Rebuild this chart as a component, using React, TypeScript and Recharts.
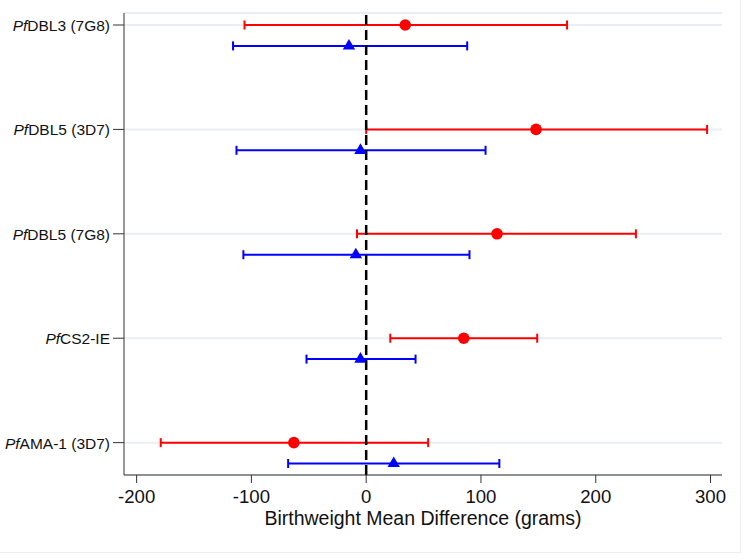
import React from 'react';
import {
  ScatterChart, Scatter, XAxis, YAxis, CartesianGrid, ErrorBar, ReferenceLine, Label,
} from 'recharts';

// antigen names, the "Pf" prefix is drawn in italics
const antigens = ['DBL3 (7G8)', 'DBL5 (3D7)', 'DBL5 (7G8)', 'CS2-IE', 'AMA-1 (3D7)'];

// red series (circles)
const redMean = [34, 148, 114, 85, -63];
const redLow = [-106, 0, -8, 21, -179];
const redHigh = [175, 297, 235, 149, 54];

// blue series (triangles)
const blueMean = [-15, -5, -9, -5, 24];
const blueLow = [-116, -113, -107, -52, -68];
const blueHigh = [88, 104, 90, 43, 116];

const xTicks = [-200, -100, 0, 100, 200, 300];
const rowTicks = [0, 1, 2, 3, 4];
const blueOffset = 0.2;

const font = '"Liberation Sans", Arial, sans-serif';

const redData = redMean.map((m, i) => ({ x: m, y: i, err: [m - redLow[i], redHigh[i] - m] }));
const blueData = blueMean.map((m, i) => ({ x: m, y: i + blueOffset, err: [m - blueLow[i], blueHigh[i] - m] }));

const RedDot = (props: any) => {
  const { cx, cy } = props;
  return <circle cx={cx} cy={cy} r={5.8} fill="#ff0000" />;
};

const BlueTriangle = (props: any) => {
  const { cx, cy } = props;
  return <path d={`M${cx},${cy - 7} L${cx - 6.2},${cy + 3.6} L${cx + 6.2},${cy + 3.6} Z`} fill="#0000ff" />;
};

const AntigenTick = (props: any) => {
  const { x, y, payload } = props;
  const name = antigens[payload.value];
  if (name === undefined) return null;
  return (
    <text x={x} y={y} textAnchor="end" dominantBaseline="central" style={{ fontSize: 15.5, fontFamily: font }} fill="#111">
      <tspan fontStyle="italic">Pf</tspan>
      <tspan>{name}</tspan>
    </text>
  );
};

const ValueTick = (props: any) => {
  const { x, y, payload } = props;
  return (
    <text x={x} y={y + 11} textAnchor="middle" style={{ fontSize: 18.6, fontFamily: font }} fill="#111">
      {payload.value}
    </text>
  );
};

export default function App() {
  return (
    <div style={{ position: 'absolute', left: 0, top: 0, width: 750, height: 560, background: '#fff' }}>
      <div style={{ position: 'absolute', left: 0, top: 0, width: 740, height: 552, borderRight: '1px solid #eeeeee', borderBottom: '1px solid #eeeeee' }} />
      <ScatterChart width={750} height={560} margin={{ top: 13, right: 28, left: 0, bottom: 25 }}>
        <CartesianGrid vertical={false} stroke="#e9eef4" strokeWidth={2} />
        <XAxis
          type="number"
          dataKey="x"
          domain={[-211, 310]}
          ticks={xTicks}
          allowDataOverflow
          height={60}
          stroke="#333"
          tickSize={8}
          tickMargin={9}
          tick={<ValueTick />}
        >
          <Label
            value="Birthweight Mean Difference (grams)"
            position="insideBottom"
            offset={10}
            style={{ fontSize: 19.5, fontFamily: font }}
            fill="#111"
          />
        </XAxis>
        <YAxis
          type="number"
          dataKey="y"
          domain={[-0.115, 4.31]}
          ticks={rowTicks}
          reversed
          allowDataOverflow
          width={124}
          stroke="#333"
          tickSize={11}
          tickMargin={3}
          tick={<AntigenTick />}
        />
        <Scatter data={redData} shape={<RedDot />} isAnimationActive={false}>
          <ErrorBar dataKey="err" direction="x" stroke="#ff0000" strokeWidth={2} width={4.5} isAnimationActive={false} />
        </Scatter>
        <Scatter data={blueData} shape={<BlueTriangle />} isAnimationActive={false}>
          <ErrorBar dataKey="err" direction="x" stroke="#0000ff" strokeWidth={2} width={4.5} isAnimationActive={false} />
        </Scatter>
        <ReferenceLine x={0} stroke="#000" strokeWidth={2.5} strokeDasharray="10 5" />
      </ScatterChart>
    </div>
  );
}
